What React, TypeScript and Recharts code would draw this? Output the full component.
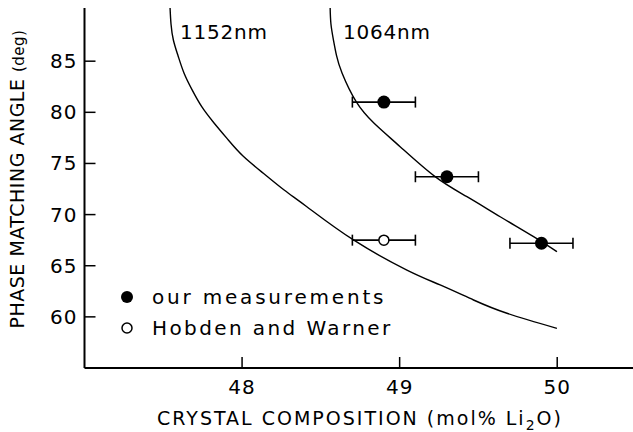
import React from 'react';
import { ComposedChart, Line, Scatter, ErrorBar, XAxis, YAxis, Customized } from 'recharts';

// tick values
const xTicks = [48, 49, 50];
const yTicks = [60, 65, 70, 75, 80, 85];

// calculated phase matching curves
const curve1152X = [47.543, 47.549, 47.564, 47.594, 47.632, 47.683, 47.744, 47.822, 47.913, 48.006, 48.135, 48.267, 48.411, 48.707, 49.046, 49.257, 49.469, 49.681, 49.998];
const curve1152Y = [90.2, 88.64, 87.07, 85.51, 83.82, 82.19, 80.55, 78.96, 77.29, 75.73, 74.04, 72.4, 70.77, 67.52, 64.58, 63.12, 61.65, 60.35, 58.88];
const curve1064X = [48.559, 48.564, 48.58, 48.6, 48.635, 48.724, 48.838, 49.003, 49.225, 49.427, 49.638, 49.85, 49.998];
const curve1064Y = [90.2, 88.64, 87.07, 85.51, 83.82, 81.04, 78.93, 76.64, 73.71, 71.75, 69.79, 67.84, 66.37];

// measurements
const oursX = [48.9, 49.3, 49.9];
const oursY = [81.0, 73.7, 67.2];
const oursErr = [0.2, 0.2, 0.2];
const hobdenX = [48.9];
const hobdenY = [67.5];
const hobdenErr = [0.2];

const curve1152 = curve1152X.map((x, i) => ({ x, y: curve1152Y[i] }));
const curve1064 = curve1064X.map((x, i) => ({ x, y: curve1064Y[i] }));
const ours = oursX.map((x, i) => ({ x, y: oursY[i], err: oursErr[i] }));
const hobden = hobdenX.map((x, i) => ({ x, y: hobdenY[i], err: hobdenErr[i] }));

const FONT = '"DejaVu Sans", sans-serif';
const TICK = 11;

const BottomTick = ({ x, y, payload }: any) => (
  <g>
    <line x1={x} y1={y} x2={x} y2={y - TICK} stroke="#000" strokeWidth={1.5} />
    <text x={x} y={y + 26} textAnchor="middle" fontFamily={FONT} fontSize={20} letterSpacing={1} fill="#000">
      {payload.value}
    </text>
  </g>
);

const TopTick = ({ x, y }: any) => (
  <line x1={x} y1={y} x2={x} y2={y + TICK} stroke="#000" strokeWidth={1.5} />
);

const LeftTick = ({ x, y, payload }: any) => (
  <g>
    <line x1={x} y1={y} x2={x + TICK} y2={y} stroke="#000" strokeWidth={1.5} />
    <text x={x - 7} y={y + 7} textAnchor="end" fontFamily={FONT} fontSize={20} letterSpacing={1} fill="#000">
      {payload.value}
    </text>
  </g>
);

const RightTick = ({ x, y }: any) => (
  <line x1={x} y1={y} x2={x - TICK} y2={y} stroke="#000" strokeWidth={1.5} />
);

const FilledDot = ({ cx, cy }: any) => <circle cx={cx} cy={cy} r={6.5} fill="#000" />;
const OpenDot = ({ cx, cy }: any) => (
  <circle cx={cx} cy={cy} r={5} fill="#fff" stroke="#000" strokeWidth={1.5} />
);

const Annotations = () => (
  <g fontFamily={FONT} fill="#000">
    <text x={180} y={39} fontSize={20} letterSpacing={0.8}>1152nm</text>
    <text x={343} y={39} fontSize={20} letterSpacing={0.8}>1064nm</text>

    <circle cx={127} cy={297} r={6} fill="#000" />
    <text x={152} y={304} fontSize={20} letterSpacing={2.8}>our measurements</text>
    <circle cx={127} cy={328} r={5} fill="#fff" stroke="#000" strokeWidth={1.5} />
    <text x={152} y={335} fontSize={20} letterSpacing={2.4}>Hobden and Warner</text>

    <text x={360} y={425} fontSize={19} letterSpacing={2} textAnchor="middle">
      CRYSTAL COMPOSITION (mol% Li
      <tspan fontSize={14} dy={5}>2</tspan>
      <tspan dy={-5}>O)</tspan>
    </text>

    <text x={24} y={179} fontSize={19} letterSpacing={0.5} textAnchor="middle" transform="rotate(-90, 24, 179)">
      PHASE MATCHING ANGLE <tspan fontSize={15}>(deg)</tspan>
    </text>
  </g>
);

export default function App() {
  return (
    <div style={{ position: 'absolute', left: 0, top: 0, width: 633, height: 432, overflow: 'hidden', background: '#fff' }}>
      <ComposedChart width={640} height={432} margin={{ top: 8, right: 4, bottom: 0, left: 0 }}>
        <XAxis
          dataKey="x"
          type="number"
          domain={[47, 50.5]}
          ticks={xTicks}
          interval={0}
          allowDataOverflow
          height={64}
          tickSize={0}
          tickMargin={0}
          tickLine={false}
          tick={<BottomTick />}
          axisLine={{ stroke: '#000', strokeWidth: 2 }}
        />
        <XAxis
          xAxisId="top"
          orientation="top"
          dataKey="x"
          type="number"
          domain={[47, 50.5]}
          ticks={xTicks}
          interval={0}
          allowDataOverflow
          height={0}
          tickSize={0}
          tickMargin={0}
          tickLine={false}
          tick={<TopTick />}
          axisLine={{ stroke: '#000', strokeWidth: 2 }}
        />
        <YAxis
          dataKey="y"
          type="number"
          domain={[55, 90.2]}
          ticks={yTicks}
          interval={0}
          allowDataOverflow
          width={84.5}
          tickSize={0}
          tickMargin={0}
          tickLine={false}
          tick={<LeftTick />}
          axisLine={{ stroke: '#000', strokeWidth: 2 }}
        />
        <YAxis
          yAxisId="right"
          orientation="right"
          dataKey="y"
          type="number"
          domain={[55, 90.2]}
          ticks={yTicks}
          interval={0}
          allowDataOverflow
          width={0}
          tickSize={0}
          tickMargin={0}
          tickLine={false}
          tick={<RightTick />}
          axisLine={{ stroke: '#000', strokeWidth: 2 }}
        />
        <Line data={curve1152} dataKey="y" type="natural" stroke="#000" strokeWidth={1.4} dot={false} isAnimationActive={false} />
        <Line data={curve1064} dataKey="y" type="natural" stroke="#000" strokeWidth={1.4} dot={false} isAnimationActive={false} />
        <Scatter data={ours} dataKey="y" shape={<FilledDot />} isAnimationActive={false}>
          <ErrorBar dataKey="err" direction="x" width={5.5} stroke="#000" strokeWidth={1.6} />
        </Scatter>
        <Scatter data={hobden} dataKey="y" shape={<OpenDot />} isAnimationActive={false}>
          <ErrorBar dataKey="err" direction="x" width={5.5} stroke="#000" strokeWidth={1.6} />
        </Scatter>
        <Customized component={Annotations} />
      </ComposedChart>
    </div>
  );
}
